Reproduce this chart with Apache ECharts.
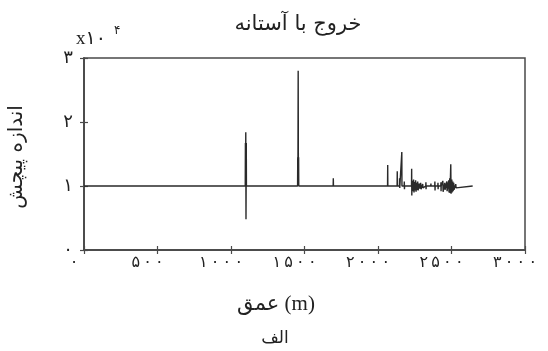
<!DOCTYPE html>
<html>
<head>
<meta charset="utf-8">
<script src="https://cdn.jsdelivr.net/npm/echarts@6/dist/echarts.min.js"></script>
<style>html,body{margin:0;padding:0;background:#fff}#c{width:548px;height:351px}</style>
</head>
<body>
<div id="c"></div>
<script>
// Depth (m)
const depth = [0,
 1097,1098,1099,1100.5,1102,1103,1104,1105,1106,
 1453,1454,1455,1457,1458.5,1460,1461,1462,
 1695,1696,1697,
 2065,2066,2067,
 2130,2131,2132,
 2146,2147,2148,2149,
 2161,2162,2163,2164,2165,
 2178,2179,2180,2181,
 2228,2229,2230,2231,
 2236,2238,2242,2245,2249,2252,2256,2259,2263,2266,2270,2273,2280,2283,2290,2293,2304,2306,2308,
 2325,2326,2327,2328,
 2359,2360,2361,
 2386,2387,2388,2389,
 2407,2408,2409,2410,
 2427,2428,2429,2430,
 2441,2443,2454,2456,2468,2470,2481,2483,2488,2490,2495,2497,2502,2504,2509,2511,2515,2517,2529,2531,2533,
 2644];
// Output with threshold
const torque = [10000,
 10000,16700,10000,18400,4800,10000,16700,10000,10000,
 10000,14500,10000,28000,10000,14500,10000,10000,
 10000,11200,10000,
 10000,13300,10000,
 10000,12300,10000,
 10000,11200,9700,10000,
 10000,15300,10000,9800,10000,
 10000,10700,9500,10000,
 10000,12700,8500,10000,
 10800,9200,11000,9000,10600,9300,10900,9100,10500,9400,10700,9300,10400,9600,10500,9500,10300,9700,10000,
 10000,10600,9500,10000,
 10000,10400,10000,
 10000,10700,9300,10000,
 10000,10500,9500,10000,
 10000,10600,9200,10000,
 10800,9100,10500,9400,10700,9200,10900,9000,11200,8900,13400,8800,11000,9000,10700,9200,10500,9400,10300,9700,10000,
 10000];

const title = 'خروج با آستانه';
const yName = 'اندازه پیچش';
const xName = 'عمق (m)';
const panel = 'الف';

const fa = '۰۱۲۳۴۵۶۷۸۹';
const toFa = (s, sep) => String(s).split('').map(ch => fa[+ch]).join(sep || '');

const data = depth.map((d, i) => [d, torque[i]]);
const axisCol = '#4a4a4a';
const arFont = '"DejaVu Sans", sans-serif';

const chart = echarts.init(document.getElementById('c'), null, {renderer: 'canvas'});
chart.setOption({
  animation: false,
  backgroundColor: '#fff',
  grid: {left: 84, right: 23, top: 58, bottom: 101, show: true, borderColor: axisCol, borderWidth: 1.5, backgroundColor: 'transparent'},
  xAxis: [{
    type: 'value', min: 0, max: 3000, interval: 500,
    axisLine: {show: true, lineStyle: {color: axisCol, width: 1.5}},
    axisTick: {show: true, inside: true, length: 4, lineStyle: {color: axisCol, width: 1.2}},
    axisLabel: {color: '#222', fontSize: 16, fontFamily: arFont, margin: 5, padding: [0, 20, 0, 0],
      formatter: v => toFa(v, '\u2009')},
    splitLine: {show: false}
  }, {
    type: 'value', min: 0, max: 3000, interval: 500, position: 'top',
    axisLine: {show: true, lineStyle: {color: axisCol, width: 1.5}},
    axisTick: {show: true, inside: true, length: 4, lineStyle: {color: axisCol, width: 1.2}},
    axisLabel: {show: false}, splitLine: {show: false}
  }],
  yAxis: [{
    type: 'value', min: 0, max: 30000, interval: 10000,
    axisLine: {show: true, lineStyle: {color: axisCol, width: 1.5}},
    axisTick: {show: true, inside: true, length: 4, lineStyle: {color: axisCol, width: 1.2}},
    axisLabel: {color: '#222', fontSize: 18, fontFamily: arFont, margin: 11,
      formatter: v => toFa(Math.round(v / 10000))},
    splitLine: {show: false}
  }, {
    type: 'value', min: 0, max: 30000, interval: 10000, position: 'right',
    axisLine: {show: true, lineStyle: {color: axisCol, width: 1.5}},
    axisTick: {show: true, inside: true, length: 4, lineStyle: {color: axisCol, width: 1.2}},
    axisLabel: {show: false}, splitLine: {show: false}
  }],
  series: [{
    type: 'line', data: data, showSymbol: false, symbol: 'none',
    lineStyle: {color: '#2a2a2a', width: 1.4}, z: 3
  }],
  graphic: [
    {type: 'text', x: 298, y: 25, style: {text: title, font: '21px ' + arFont, fill: '#222', textAlign: 'center', textVerticalAlign: 'middle'}},
    {type: 'text', x: 17, y: 157, rotation: Math.PI / 2, style: {text: yName, font: '20px ' + arFont, fill: '#222', textAlign: 'center', textVerticalAlign: 'middle'}},
    {type: 'text', x: 276, y: 304, style: {text: xName, font: '21px "Liberation Serif", ' + arFont, fill: '#222', textAlign: 'center', textVerticalAlign: 'middle'}},
    {type: 'text', x: 275, y: 339, style: {text: panel, font: '17px ' + arFont, fill: '#222', textAlign: 'center', textVerticalAlign: 'middle'}},
    {type: 'text', x: 76, y: 39, style: {text: 'x' + toFa(10), font: '19px "Liberation Serif", ' + arFont, fill: '#222', textAlign: 'left', textVerticalAlign: 'middle'}},
    {type: 'text', x: 114, y: 31, style: {text: toFa(4), font: '12px ' + arFont, fill: '#222', textAlign: 'left', textVerticalAlign: 'middle'}}
  ]
});
</script>
</body>
</html>
